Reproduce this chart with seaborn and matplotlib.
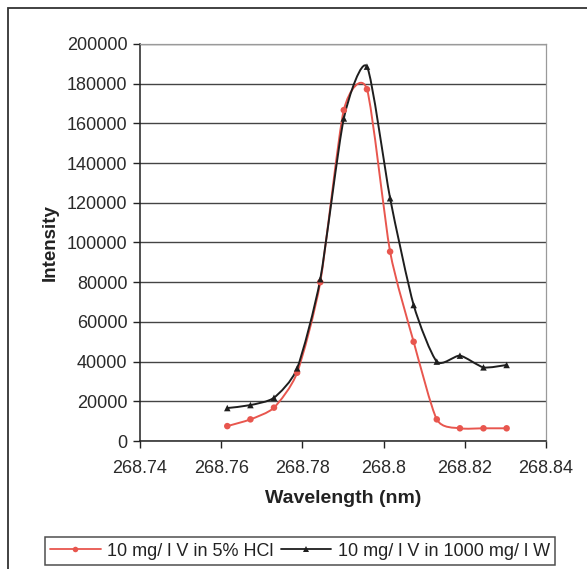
import matplotlib
matplotlib.use("Agg")
import matplotlib.pyplot as plt
import matplotlib.ticker as mticker
from matplotlib.patches import Rectangle, PathPatch
from matplotlib.path import Path
from matplotlib.lines import Line2D
import numpy as np
import pandas as pd
import seaborn as sns

wavelength = [268.7615, 268.7672, 268.7730, 268.7787, 268.7844, 268.7902, 268.7959,
              268.8016, 268.8074, 268.8131, 268.8188, 268.8246, 268.8303]
hcl_intensity = [7500, 10900, 16800, 34400, 80000, 166700, 177200,
                 95400, 50000, 10900, 6400, 6400, 6400]
w_intensity = [16600, 18100, 21800, 36600, 81500, 162500, 188600,
               122300, 68500, 40000, 43000, 37100, 38300]
series_names = ["10 mg/ l V in 5% HCl", "10 mg/ l V in 1000 mg/ l W"]
series_colors = ["#e8564e", "#1e1e1e"]
series_markers = ["o", "^"]

df = pd.DataFrame({
    "Wavelength": wavelength * 2,
    "Intensity": hcl_intensity + w_intensity,
    "Series": [series_names[0]] * len(wavelength) + [series_names[1]] * len(wavelength),
})


def smooth_path(x, y, tension=1 / 9):
    """Cardinal spline through the points, expressed as cubic Bezier segments."""
    pts = np.column_stack([x, y]).astype(float)
    ext = np.vstack([pts[0], pts, pts[-1]])
    verts = [pts[0]]
    codes = [Path.MOVETO]
    for i in range(1, len(ext) - 2):
        p0, p1, p2, p3 = ext[i - 1], ext[i], ext[i + 1], ext[i + 2]
        verts += [p1 + (p2 - p0) * tension, p2 - (p3 - p1) * tension, p2]
        codes += [Path.CURVE4] * 3
    return Path(verts, codes)


sns.set_theme(style="white")
plt.rcParams["font.family"] = ["Liberation Sans", "DejaVu Sans"]

fig = plt.figure(figsize=(5.87, 5.69), dpi=100)
ax = fig.add_axes([140 / 587, 1 - 441 / 569, 406 / 587, 397 / 569])

# smoothed connecting lines
for name, color in zip(series_names, series_colors):
    sub = df[df["Series"] == name]
    ax.add_patch(PathPatch(smooth_path(sub["Wavelength"], sub["Intensity"]),
                           facecolor="none", edgecolor=color, linewidth=1.4,
                           transform=ax.transData, zorder=3))

# markers
sns.scatterplot(data=df, x="Wavelength", y="Intensity", hue="Series", style="Series",
                palette=series_colors, markers=series_markers, s=22, linewidth=0,
                ax=ax, legend=False, zorder=4)

ax.set_xlim(268.74, 268.84)
ax.set_ylim(0, 200000)
ax.xaxis.set_major_locator(mticker.MultipleLocator(0.02))
ax.xaxis.set_major_formatter(mticker.FuncFormatter(lambda v, p: f"{v:.2f}".rstrip("0")))
ax.yaxis.set_major_locator(mticker.MultipleLocator(20000))
ax.yaxis.set_major_formatter(mticker.FuncFormatter(lambda v, p: f"{int(round(v))}"))
ax.grid(axis="y", color="#444444", linewidth=1.0)
ax.set_axisbelow(True)

for side in ["top", "right"]:
    ax.spines[side].set_color("#9a9a9a")
    ax.spines[side].set_linewidth(0.9)
for side in ["left", "bottom"]:
    ax.spines[side].set_color("#222222")
    ax.spines[side].set_linewidth(1.1)

ax.tick_params(axis="both", which="major", direction="out", length=5, width=1,
               color="#222222", labelsize=13, labelcolor="#2a2a2a", pad=4)
ax.tick_params(axis="x", pad=9)
ax.tick_params(left=True, bottom=True)

ax.set_xlabel("Wavelength (nm)", fontsize=14, fontweight="bold", color="#222222", labelpad=9)
ax.set_ylabel("Intensity", fontsize=13.5, fontweight="bold", color="#222222", labelpad=6)

handles = [Line2D([], [], color=c, marker=m, markersize=m_size, linewidth=1.3,
                  markeredgewidth=0)
           for c, m, m_size in zip(series_colors, series_markers, [4, 5])]
leg = ax.legend(handles, series_names, loc="center", bbox_to_anchor=(300 / 587, 1 - 551 / 569),
                bbox_transform=fig.transFigure, ncol=2, frameon=True, fancybox=False,
                edgecolor="#222222", fontsize=13, handlelength=2.8, handletextpad=0.35,
                columnspacing=0.4, borderpad=0.3, borderaxespad=0)
leg.get_frame().set_linewidth(1.1)
for t in leg.get_texts():
    t.set_color("#222222")

# outer chart frame (runs past the right and bottom edges)
fig.patches.append(Rectangle((8 / 587, -0.05), 1.1, 1.05 - 8 / 569,
                             transform=fig.transFigure, fill=False,
                             edgecolor="#333333", linewidth=1.3))

fig.savefig("out.png", dpi=100, facecolor="white")
